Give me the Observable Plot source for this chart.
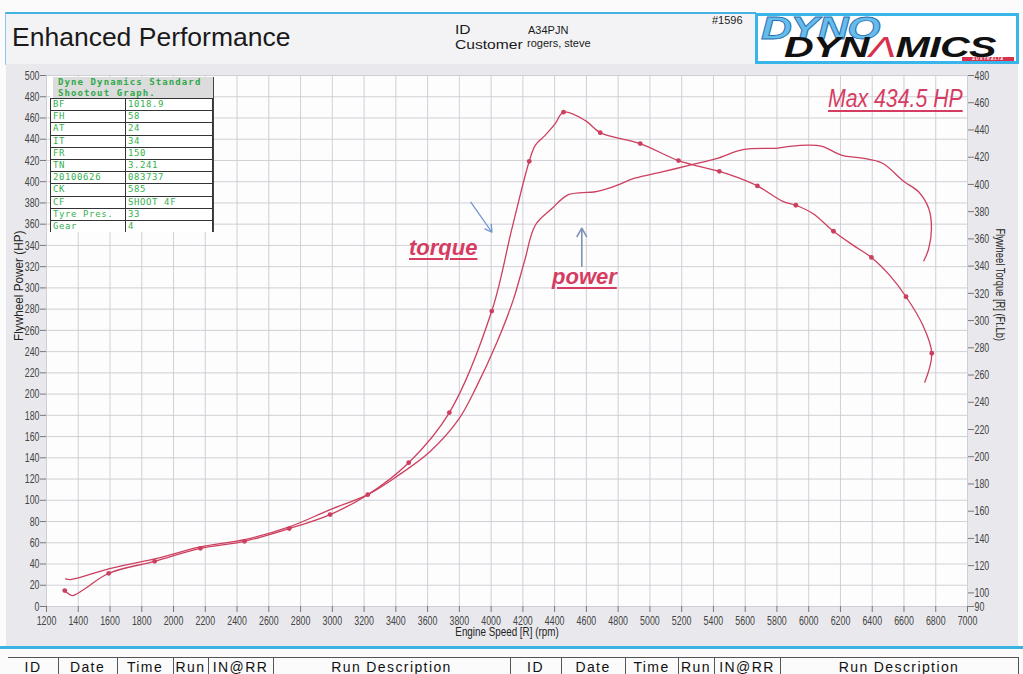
<!DOCTYPE html>
<html><head><meta charset="utf-8">
<script src="https://cdn.jsdelivr.net/npm/d3@7"></script>
<script src="https://cdn.jsdelivr.net/npm/@observablehq/plot@0.6"></script>
<style>
html,body{margin:0;padding:0;background:#fbfbfb;}
#page{position:relative;width:1023px;height:674px;overflow:hidden;font-family:"Liberation Sans",Arial,sans-serif;}
#header{position:absolute;left:5px;top:12px;width:750px;height:50px;background:#f3f3f5;border-top:2px solid #45b4e2;border-left:1px solid #8cc8e6;border-bottom:1px solid #b9cfdc;}
.ht{position:absolute;white-space:nowrap;color:#1a1a1a;}
#logo{position:absolute;left:755px;top:13px;width:258px;height:45px;border:3px solid #38b6ea;background:#fff;}
#chartbg{position:absolute;left:6px;top:64px;width:1012px;height:583px;background:#e9e9ed;}
#chart{position:absolute;left:0;top:0;}
#cyan{position:absolute;left:0;top:646px;width:1023px;height:3px;background:#3ab3e3;}
.anno{position:absolute;white-space:nowrap;color:#d63c62;text-decoration:underline;text-decoration-thickness:2px;text-underline-offset:3px;line-height:1;}
#inset{position:absolute;left:50px;top:77px;width:163px;height:155px;background:#fff;overflow:hidden;border-right:1px solid #444;}
#inset .ihb{position:absolute;left:3px;top:0;width:160px;height:21px;background:#dcdcdc;}
#inset .ih{position:absolute;left:8px;color:#2fa84a;font:bold 9px "DejaVu Sans Mono",monospace;letter-spacing:1.1px;line-height:10.5px;white-space:nowrap;}
#inset table{position:absolute;left:0;top:21px;border-collapse:collapse;width:163px;}
#inset td{border:1px solid #333;height:11.2px;padding:0 0 0 2px;font:9px "DejaVu Sans Mono",monospace;color:#35b04e;line-height:11px;letter-spacing:0.6px;white-space:nowrap;overflow:hidden;}
#footer .c{position:absolute;top:660px;font-size:14px;letter-spacing:1.4px;color:#111;line-height:14px;text-align:center;}
#footer .s{position:absolute;top:657px;width:1px;height:17px;background:#555;}
</style></head>
<body><div id="page">
<div id="header"></div>
<div class="ht" style="left:12px;top:24px;font-size:26.5px;line-height:26.5px;">Enhanced Performance</div>
<div class="ht" style="left:455px;top:24px;font-size:13px;line-height:12px;transform:scaleX(1.2);transform-origin:left top;">ID</div>
<div class="ht" style="left:528px;top:25px;font-size:11px;line-height:11px;">A34PJN</div>
<div class="ht" style="left:455px;top:38.7px;font-size:13px;line-height:12px;transform:scaleX(1.2);transform-origin:left top;">Customer</div>
<div class="ht" style="left:527px;top:38px;font-size:11px;line-height:11px;">rogers, steve</div>
<div class="ht" style="left:712px;top:15px;font-size:11px;line-height:11px;">#1596</div>
<div id="logo">
  <div style="position:absolute;left:3px;top:4px;font:italic bold 31px 'Liberation Sans',Arial,sans-serif;line-height:18px;color:#66bdec;-webkit-text-stroke:0.8px #2a6fb0;transform:scaleX(1.38);transform-origin:left top;letter-spacing:-1px;">DYNO</div>
  <div style="position:absolute;left:26px;top:22px;font:italic bold 29px 'Liberation Sans',Arial,sans-serif;line-height:18px;color:#111;transform:scaleX(1.42);transform-origin:left top;letter-spacing:-0.5px;">DYN<span style="color:#d8304e;font-weight:400;">Λ</span>MICS</div>
  <div style="position:absolute;left:204px;top:41px;width:52px;height:4px;background:#d8304e;color:#fff;font:italic bold 4px sans-serif;letter-spacing:1px;text-align:center;line-height:4px;">AUSTRALIA</div>
</div>
<div id="chartbg"></div>
<div id="chart"></div>
<div id="inset"></div>
<div class="anno" style="left:409px;top:237px;font:italic bold 22px 'Liberation Sans',Arial,sans-serif;line-height:22px;">torque</div>
<div class="anno" style="left:552px;top:266px;font:italic bold 22px 'Liberation Sans',Arial,sans-serif;line-height:22px;">power</div>
<div class="anno" style="left:828px;top:86px;font:italic 25px 'Liberation Sans',Arial,sans-serif;line-height:25px;transform:scaleX(0.85);transform-origin:left top;">Max 434.5 HP</div>
<div id="cyan"></div>
<div id="footer"></div>
</div>
<script>
// ---- data read from the dyno sheet ----
const powerRpm = [1320,1351,1400,1592,1881,2169,2447,2729,2986,3223,3406,3616,3793,3908,4034,4139,4210,4278,4383,4478,4573,4647,4763,4910,5057,5246,5418,5586,5806,5880,6000,6084,6210,6336,6462,6598,6693,6756,6773,6756,6725];
const powerHp = [26,25.4,27,35.4,44.8,56.1,63,75,91.2,105.3,122.5,146,175.7,207,247.8,288.5,325,359,374.7,387.2,389.7,390.3,395,403.5,408.5,415.4,421.7,430.2,431.7,433.3,434.5,433.3,424.8,422.3,417.6,400.4,390.3,374.7,355.9,337.1,325.5];
const torqueRpm = [1315,1362,1435,1592,1881,2169,2447,2729,2986,3223,3481,3737,4004,4131,4240,4278,4340,4404,4456,4592,4687,4939,5180,5437,5545,5677,5837,5919,6026,6156,6279,6395,6509,6613,6718,6775,6731];
const torqueFt = [101.7,98,102.5,114.4,123.2,132.7,137.9,147.2,157.5,172.1,195.6,232.4,307,367.6,417,428.7,436,444.6,453.1,447,438,430,417.5,409.6,405.4,398.9,387.6,384.7,378.6,365.6,355.4,346.4,333.4,317.5,296.7,276,254.7];
const markerRpm = [1315,1592,1881,2169,2447,2729,2986,3223,3481,3737,4004,4240,4456,4687,4939,5180,5437,5677,5919,6156,6395,6613,6775];
const xTicks = d3.range(1200, 7001, 200);
const hpTicks = d3.range(0, 501, 20);
const torqueTicks = [90].concat(d3.range(100, 481, 20));
const insetTitle = ["Dyne Dynamics Standard", "Shootout Graph."];
const insetLabels = ["BF","FH","AT","IT","FR","TN","20100626","CK","CF","Tyre Pres.","Gear"];
const insetValues = ["1018.9","58","24","34","150","3.241","083737","585","SHOOT 4F","33","4"];
const footerCols = ["ID","Date","Time","Run","IN@RR","Run Description","ID","Date","Time","Run","IN@RR","Run Description"];
const footerEdges = [8,58,117,173,208,273,510,561,625,678,714,780,1018];

// torque (ft-lb, right axis 90..480) mapped onto the HP axis (0..500)
const tq = t => (t - 90) * 500 / 390;
const power = powerRpm.map((r, i) => ({rpm: r, hp: powerHp[i]}));
const torque = torqueRpm.map((r, i) => ({rpm: r, ft: torqueFt[i]}));
const markers = torque.filter(d => markerRpm.includes(d.rpm));
const red = "#cc3f5e";

const chart = Plot.plot({
  width: 1023, height: 650,
  marginLeft: 46, marginRight: 56, marginTop: 75, marginBottom: 44,
  x: {domain: [1200, 7000]},
  y: {domain: [0, 500]},
  style: {fontFamily: '"Liberation Sans",Arial,sans-serif', fontSize: "13px", color: "#444", background: "transparent", overflow: "visible"},
  marks: [
    Plot.frame({fill: "#fdfdfd", stroke: null}),
    Plot.gridX(xTicks, {stroke: "#cbcbd2", strokeOpacity: 1, strokeWidth: 0.9}),
    Plot.gridY(hpTicks, {stroke: "#cbcbd2", strokeOpacity: 1, strokeWidth: 0.9}),
    Plot.axisX(xTicks, {tickSize: 6, tickPadding: 3, stroke: "#777", label: null, tickFormat: "d"}),
    Plot.axisY(hpTicks, {anchor: "left", tickSize: 6, tickPadding: 1, stroke: "#777", label: null}),
    Plot.axisY(torqueTicks.map(tq), {anchor: "right", tickSize: 6, tickPadding: 1, stroke: "#777", label: null,
      tickFormat: d => Math.round(d * 390 / 500 + 90)}),
    Plot.text(["Engine Speed [R] (rpm)"], {frameAnchor: "bottom", dy: 29, fontSize: 12, fill: "#222"}),
    Plot.text(["Flywheel Power (HP)"], {frameAnchor: "left", dx: -27, rotate: -90, fontSize: 12, fill: "#222"}),
    Plot.text(["Flywheel Torque [R] (Ft.Lb)"], {frameAnchor: "right", dx: 32, rotate: 90, fontSize: 12, fill: "#222"}),
    Plot.arrow([0], {x1: 3873, y1: 380.6, x2: 4005, y2: 352.4, stroke: "#6f95d0", strokeWidth: 1.3, headLength: 9}),
    Plot.arrow([0], {x1: 4571, y1: 320.5, x2: 4571, y2: 356.2, stroke: "#7e92b4", strokeWidth: 1.6, headLength: 9}),
    Plot.line(power, {x: "rpm", y: "hp", stroke: red, strokeWidth: 1.3, curve: "catmull-rom"}),
    Plot.line(torque, {x: "rpm", y: d => tq(d.ft), stroke: red, strokeWidth: 1.3, curve: "catmull-rom"}),
    Plot.dot(markers, {x: "rpm", y: d => tq(d.ft), r: 2.4, fill: red, stroke: null})
  ]
});
document.getElementById("chart").appendChild(chart);

// the sheet uses a condensed face: squeeze the SVG texts horizontally
function squeeze(sel, k) {
  chart.querySelectorAll(sel).forEach(t => {
    const tr = t.getAttribute("transform");
    if (tr) t.setAttribute("transform", tr + ` scale(${k},1)`);
    else {
      const x = +t.getAttribute("x") || 0, y = +t.getAttribute("y") || 0;
      t.removeAttribute("x"); t.removeAttribute("y");
      t.setAttribute("transform", `translate(${x},${y}) scale(${k},1)`);
    }
  });
}
squeeze('g[aria-label*="tick label"] text', 0.68);
chart.querySelectorAll('g[aria-label="text"] text').forEach(t => {
  const s = t.textContent;
  const k = s.startsWith("Engine") ? 0.82 : s.includes("Torque") ? 0.78 : 0.98;
  const tr = t.getAttribute("transform");
  if (tr) t.setAttribute("transform", tr + ` scale(${k},1)`);
});

// inset run-settings table
const inset = document.getElementById("inset");
inset.innerHTML = '<div class="ihb"></div>' +
  insetTitle.map((s, i) => `<div class="ih" style="top:${0.3 + i * 10.5}px">${s}</div>`).join("") +
  '<table>' + insetLabels.map((l, i) => `<tr><td style="width:72px">${l}</td><td>${insetValues[i]}</td></tr>`).join("") + '</table>';

// footer run table header
const footer = document.getElementById("footer");
let html = '<div style="position:absolute;left:8px;top:657px;width:1010px;height:1px;background:#555"></div>';
footerCols.forEach((c, i) => {
  const l = footerEdges[i], r = footerEdges[i + 1];
  html += `<div class="c" style="left:${l}px;width:${r - l}px">${c}</div>`;
  html += `<div class="s" style="left:${r}px"></div>`;
});
footer.innerHTML = html;
</script>
</body></html>
